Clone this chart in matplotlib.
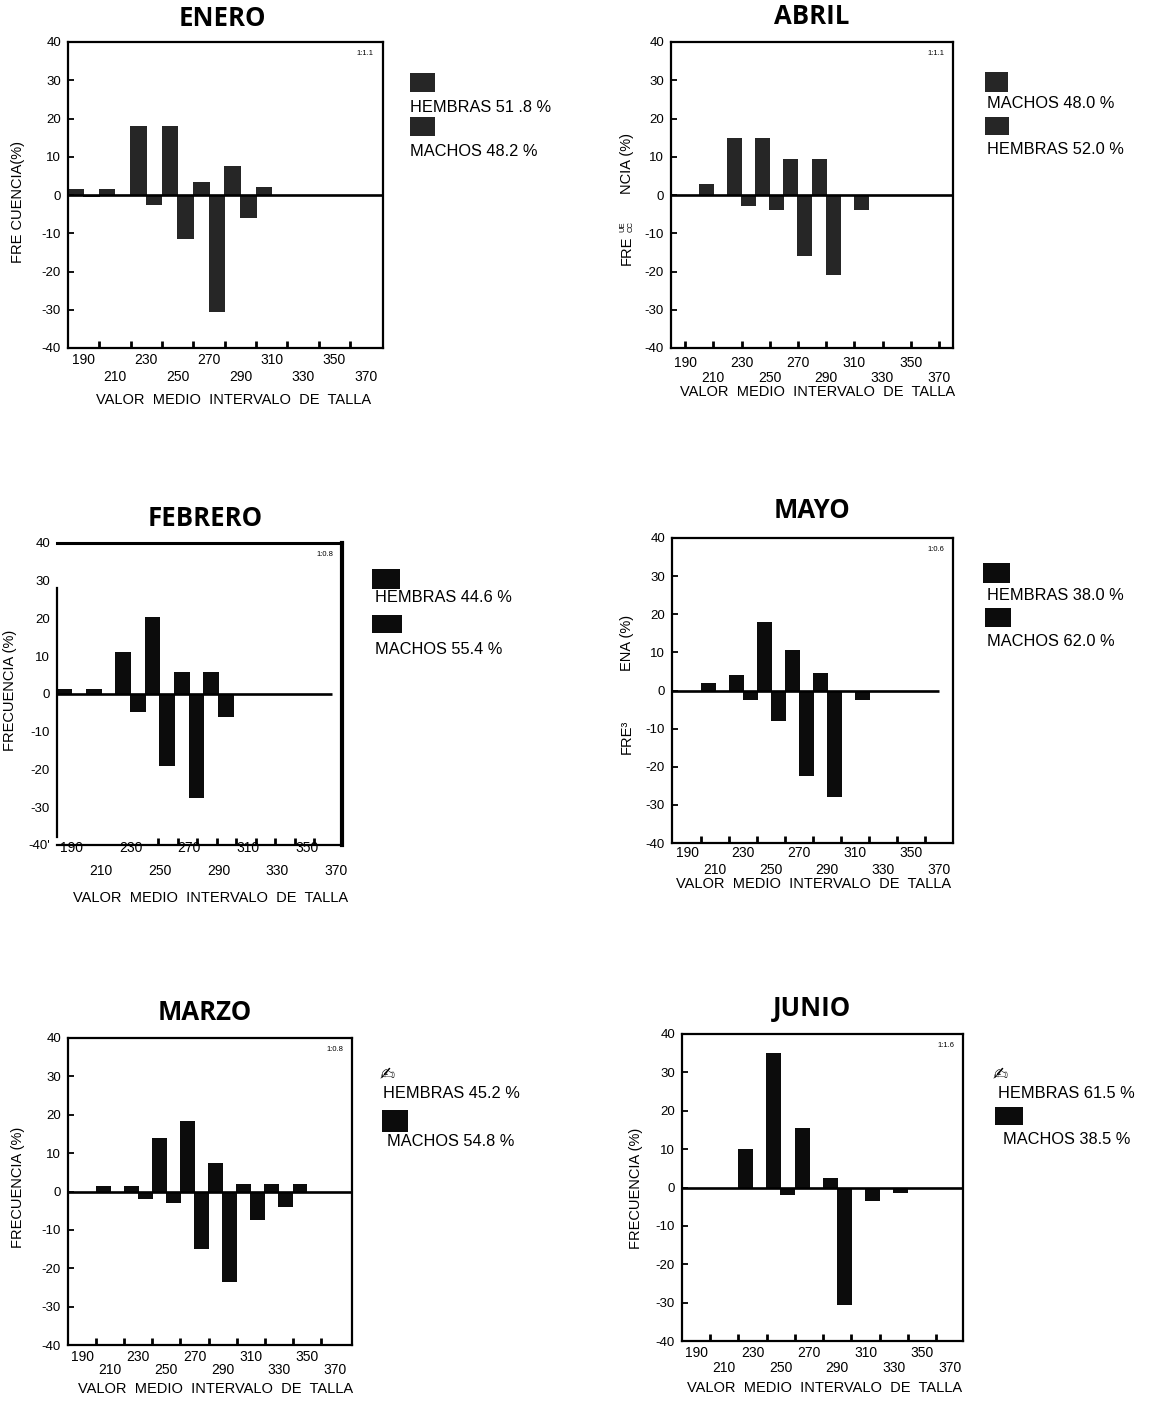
import matplotlib
matplotlib.use('Agg')
import matplotlib.pyplot as plt
import numpy as np
from matplotlib.patches import Rectangle
from matplotlib.transforms import blended_transform_factory, offset_copy

plt.rcParams['font.family'] = ['Liberation Sans', 'DejaVu Sans']

W, H = 1157, 1402

# ---------------- data ----------------
clases = [190, 210, 230, 250, 270, 290, 310, 330, 350, 370]
etiquetas_x = ['190', '210', '230', '250', '270', '290', '310', '330', '350', '370']
valores_y = [-40, -30, -20, -10, 0, 10, 20, 30, 40]
etiquetas_y = ['-40', '-30', '-20', '-10', '0', '10', '20', '30', '40']

meses = ['ENERO', 'ABRIL', 'FEBRERO', 'MAYO', 'MARZO', 'JUNIO']
proporciones = ['1:1.1', '1:1.1', '1:0.8', '1:0.6', '1:0.8', '1:1.6']

enero_arriba = [1.5, 1.5, 18, 18, 3.5, 7.5, 2, 0, 0, 0]
enero_abajo = [-0.5, 0, -2.5, -11.5, -30.5, -6, 0, 0, 0, 0]
abril_arriba = [0, 3, 15, 15, 9.5, 9.5, 0, 0, 0, 0]
abril_abajo = [0, 0, -3, -4, -16, -21, -4, 0, 0, 0]
febrero_arriba = [1.3, 1.3, 11, 20.5, 5.7, 5.7, 0, 0, 0, 0]
febrero_abajo = [-0.3, 0, -4.7, -19, -27.5, -6, 0, 0, 0, 0]
mayo_arriba = [0, 2, 4, 18, 10.5, 4.5, 0, 0, 0, 0]
mayo_abajo = [0, 0, -2.5, -8, -22.5, -28, -2.5, 0, 0, 0]
marzo_arriba = [0, 1.5, 1.5, 14, 18.5, 7.5, 2, 2, 2, 0]
marzo_abajo = [0, 0, -2, -3, -15, -23.5, -7.5, -4, 0, 0]
junio_arriba = [0, 0, 10, 35, 15.5, 2.5, 0, 0, 0, 0]
junio_abajo = [0, 0, 0, -2, 0, -30.5, -3.5, -1.5, 0, 0]

leyenda_enero = [('HEMBRAS 51 .8 %', 'caja'), ('MACHOS 48.2 %', 'caja')]
leyenda_abril = [('MACHOS 48.0 %', 'caja'), ('HEMBRAS 52.0 %', 'caja')]
leyenda_febrero = [('HEMBRAS 44.6 %', 'caja'), ('MACHOS 55.4 %', 'caja')]
leyenda_mayo = [('HEMBRAS 38.0 %', 'caja'), ('MACHOS 62.0 %', 'caja')]
leyenda_marzo = [('HEMBRAS 45.2 %', 'pluma'), ('MACHOS 54.8 %', 'caja')]
leyenda_junio = [('HEMBRAS 61.5 %', 'pluma'), ('MACHOS 38.5 %', 'caja')]

datos = {
    'ENERO': (enero_arriba, enero_abajo, leyenda_enero),
    'ABRIL': (abril_arriba, abril_abajo, leyenda_abril),
    'FEBRERO': (febrero_arriba, febrero_abajo, leyenda_febrero),
    'MAYO': (mayo_arriba, mayo_abajo, leyenda_mayo),
    'MARZO': (marzo_arriba, marzo_abajo, leyenda_marzo),
    'JUNIO': (junio_arriba, junio_abajo, leyenda_junio),
}

# ---------------- layout (pixels) ----------------
layout = {
    'ENERO': dict(box=(68, 42, 383, 348), title=(222, 19), xlim=(180, 381),
                  ticks=np.arange(200, 361, 20), rows=(12, 29), xlabel=(234, 400),
                  zero_end=381, color='#262626',
                  leg=[(410, 73, 25, 19, 410, 107), (410, 117, 25, 19, 410, 151)]),
    'ABRIL': dict(box=(671, 42, 953, 348), title=(812, 17), xlim=(180, 380),
                  ticks=np.arange(190, 371, 20), rows=(15, 30), xlabel=(818, 392),
                  zero_end=380, color='#262626',
                  leg=[(985, 72, 23, 20, 987, 103), (985, 117, 24, 18, 987, 150)]),
    'FEBRERO': dict(box=(57, 543, 342, 845), title=(205, 518), xlim=(180, 374),
                    ticks=np.linspace(249, 355, 9), rows=(3, 26), xlabel=(211, 898),
                    zero_end=367, color='#0c0c0c',
                    leg=[(372, 569, 28, 20, 375, 598), (372, 615, 30, 18, 375, 650)]),
    'MAYO': dict(box=(672, 538, 953, 843), title=(812, 510), xlim=(179, 380),
                 ticks=np.arange(200, 361, 20), rows=(10, 27), xlabel=(814, 884),
                 zero_end=370, color='#0c0c0c',
                 leg=[(983, 563, 27, 20, 987, 596), (985, 608, 26, 19, 987, 642)]),
    'MARZO': dict(box=(68, 1038, 352, 1345), title=(205, 1012), xlim=(180, 382),
                  ticks=np.arange(200, 361, 20), rows=(12, 25), xlabel=(216, 1389),
                  zero_end=382, color='#0c0c0c',
                  leg=[(380, 1067, 23, 15, 383, 1094), (382, 1110, 26, 22, 387, 1141)]),
    'JUNIO': dict(box=(682, 1034, 963, 1341), title=(812, 1008), xlim=(180, 379),
                  ticks=np.arange(200, 361, 20), rows=(12, 27), xlabel=(825, 1388),
                  zero_end=379, color='#0c0c0c',
                  leg=[(993, 1067, 22, 15, 998, 1093), (995, 1107, 28, 18, 1003, 1139)]),
}

fig = plt.figure(figsize=(W / 100, H / 100), dpi=100)


def fx(x):
    return x / W


def fy(y):
    return 1 - y / H


for mes in meses:
    arriba, abajo, leyenda = datos[mes]
    L = layout[mes]
    x0, y0, x1, y1 = L['box']
    ax = fig.add_axes([fx(x0), fy(y1), (x1 - x0) / W, (y1 - y0) / H])
    c = np.array(clases, dtype=float)
    ax.bar(c - 5, arriba, width=10.6, color=L['color'], linewidth=0)
    ax.bar(c + 5, abajo, width=10.6, color=L['color'], linewidth=0)
    ax.hlines(0, L['xlim'][0], L['zero_end'], color='black', linewidth=1.9, zorder=3)
    ax.set_xlim(*L['xlim'])
    ax.set_ylim(-40, 40)
    ax.set_yticks(valores_y)
    ylabels = list(etiquetas_y)
    if mes == 'FEBRERO':
        ylabels[0] = "-40'"
    ax.set_yticklabels(ylabels, fontsize=9.5)
    ax.set_xticks(L['ticks'])
    ax.set_xticklabels([])
    ax.tick_params(axis='x', direction='in', length=5, width=2, pad=2)
    ax.tick_params(axis='y', direction='in', length=4, width=1.3, pad=5)
    for s in ax.spines.values():
        s.set_linewidth(1.6)
    if mes == 'FEBRERO':
        ax.spines['left'].set_bounds(-38, 28)
        ax.spines['right'].set_linewidth(3)
        ax.spines['top'].set_linewidth(2.2)
        ax.tick_params(axis='y', length=0)
    # x tick labels in two staggered rows
    tr = blended_transform_factory(ax.transData, ax.transAxes)
    for i, (cv, lab) in enumerate(zip(clases, etiquetas_x)):
        off = L['rows'][i % 2]
        t = offset_copy(tr, fig=fig, x=0, y=-off * 0.72, units='points')
        ax.text(cv, 0, lab, transform=t, ha='center', va='center', fontsize=10)
    # ratio
    ax.text(0.97, 0.975, proporciones[meses.index(mes)], transform=ax.transAxes,
            ha='right', va='top', fontsize=5.5)
    # title
    fig.text(fx(L['title'][0]), fy(L['title'][1]), mes, ha='center', va='center',
             fontsize=18.5, fontweight='bold', family=['Open Sans', 'DejaVu Sans'])
    # xlabel
    fig.text(fx(L['xlabel'][0]), fy(L['xlabel'][1]), 'VALOR  MEDIO  INTERVALO  DE  TALLA',
             ha='center', va='center', fontsize=10.5)
    # legend
    for (lab, kind), (sx, sy, sw, sh, tx, ty) in zip(leyenda, L['leg']):
        if kind == 'caja':
            fig.patches.append(Rectangle((fx(sx), fy(sy + sh)), sw / W, sh / H,
                                         transform=fig.transFigure, facecolor=L['color'],
                                         edgecolor='none'))
        else:
            fig.text(fx(sx), fy(sy + sh / 2), '\u270d', ha='left', va='center',
                     fontsize=13, family=['DejaVu Sans'])
        fig.text(fx(tx), fy(ty), lab, ha='left', va='center', fontsize=11.8)

# y labels
fig.text(fx(18), fy(202), 'FRE CUENCIA(%)', rotation=90, ha='center', va='center', fontsize=10.5)
fig.text(fx(627), fy(163), 'NCIA (%)', rotation=90, ha='center', va='center', fontsize=10.5)
fig.text(fx(627), fy(250), 'FRE', rotation=90, ha='center', va='center', fontsize=10.5)
fig.text(fx(623), fy(227), 'UE', rotation=90, ha='center', va='center', fontsize=5.5)
fig.text(fx(631), fy(227), 'CC', rotation=90, ha='center', va='center', fontsize=5.5)
fig.text(fx(10), fy(690), 'FRECUENCIA (%)', rotation=90, ha='center', va='center', fontsize=10.5)
fig.text(fx(627), fy(643), 'ENA (%)', rotation=90, ha='center', va='center', fontsize=10.5)
fig.text(fx(627), fy(737), 'FRE\u00b3', rotation=90, ha='center', va='center', fontsize=10.5)
fig.text(fx(18), fy(1187), 'FRECUENCIA (%)', rotation=90, ha='center', va='center', fontsize=10.5)
fig.text(fx(636), fy(1188), 'FRECUENCIA (%)', rotation=90, ha='center', va='center', fontsize=10.5)

fig.savefig('out.png', dpi=100)
